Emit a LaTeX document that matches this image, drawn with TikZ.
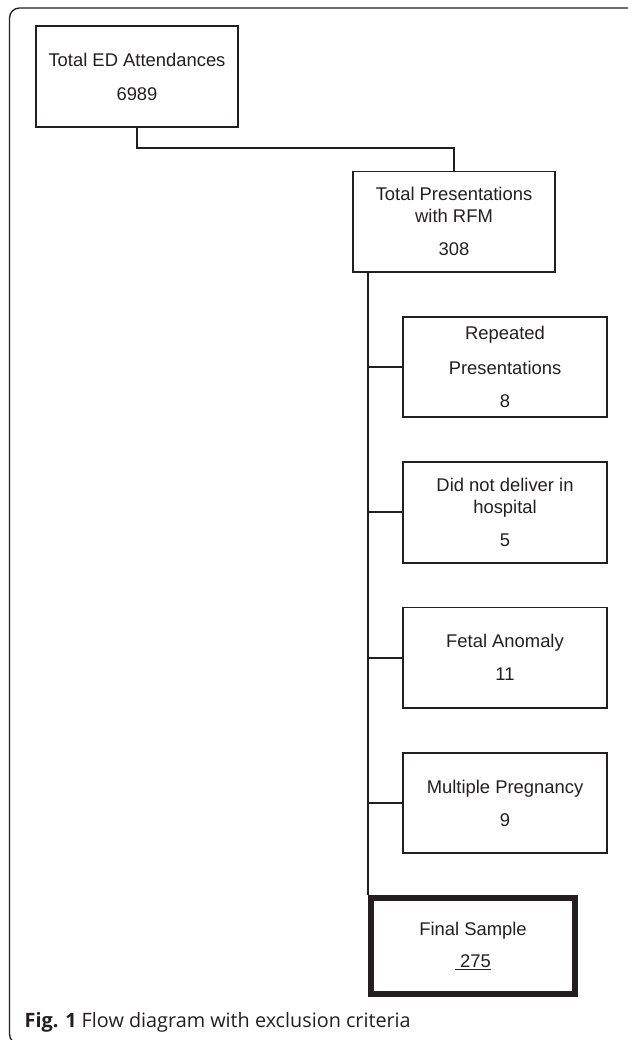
\documentclass[tikz,border=0pt]{standalone}
\usepackage{fontspec}
\setmainfont{Liberation Sans}
\newfontfamily\capfont{Open Sans}
\usepackage{tikz}
\usetikzlibrary{positioning}
\definecolor{rfmink}{HTML}{231F20}

\begin{document}
\begin{tikzpicture}[x=1pt,y=-1pt,node distance=43pt and 0pt, every node/.style={font=\fontsize{18.4}{22}\selectfont,align=center,text=rfmink}]
\tikzset{stage/.style={draw=rfmink,line width=1.8pt,minimum width=202.5pt,minimum height=100.5pt,inner sep=2pt}, excl/.style={stage,minimum width=204.5pt}, final/.style={draw=rfmink,line width=6pt,minimum width=204pt,minimum height=96pt}, link/.style={draw=rfmink,line width=2pt}, caption/.style={font=\capfont\fontsize{19.8}{24}\selectfont,anchor=west,inner sep=0pt}}
\useasboundingbox (0,0) rectangle (627,1040);
% frame, open on the right
\draw[rfmink,line width=1.3pt,rounded corners=10pt] (630,8) -- (9.5,8) -- (9.5,1044) -- (40,1044);
\node[stage] (ed) at (137,76.5) {Total ED Attendances\\[12pt]6989};
\node[stage,below=of ed,xshift=317pt] (rfm) {Total Presentations\\with RFM\\[11pt]308};
\node[excl,below=of rfm,xshift=51pt] (rep) {Repeated\\[13pt]Presentations\\[11pt]8};
\node[excl,below=of rep] (hosp) {Did not deliver in\\hospital\\[11pt]5};
\node[excl,below=of hosp] (anom) {Fetal Anomaly\\[11pt]11};
\node[excl,below=of anom] (mult) {Multiple Pregnancy\\[11pt]9};
\node[final,below=41pt of mult,xshift=-32pt] (fin) {Final Sample\\[10pt]\underline{\ 275}};
\node[caption] (cap) at (24.5,1022) {\textbf{Fig. 1} Flow diagram with exclusion criteria};
\draw[link] (ed.south) -- ++(0,20) -| (rfm.north);
\draw[link] (rfm.south -| fin.north west) -- (fin.north west);
\foreach \b in {rep,hosp,anom,mult}
  \draw[link] (\b.west -| fin.north west) -- (\b.west);
\end{tikzpicture}
\end{document}
